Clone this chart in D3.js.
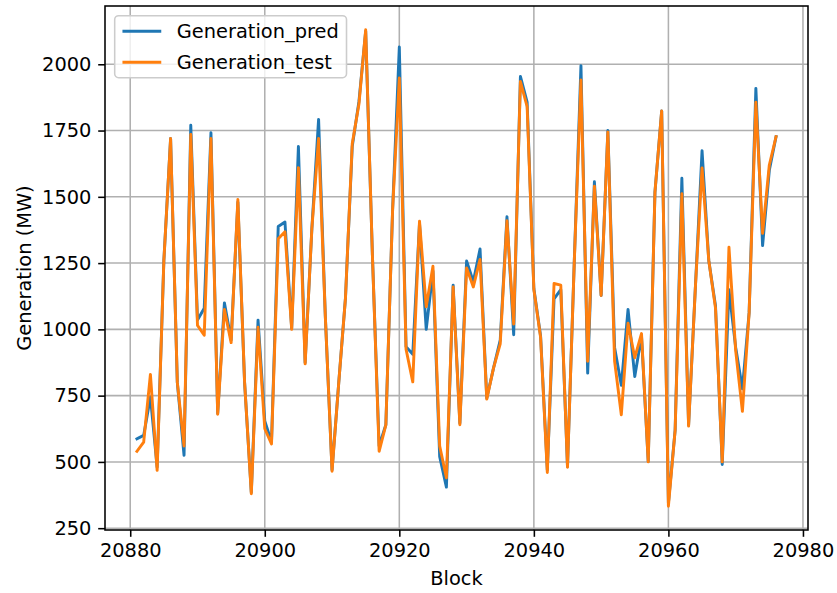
<!DOCTYPE html>
<html>
<head>
<meta charset="utf-8">
<script src="https://cdn.jsdelivr.net/npm/d3@7"></script>
<style>
body { margin: 0; background: #fff; }
text { font-family: "DejaVu Sans", sans-serif; fill: #000; }
</style>
</head>
<body>
<div id="chart"></div>
<script>
const blocks = [20881, 20882, 20883, 20884, 20885, 20886, 20887, 20888, 20889, 20890,
    20891, 20892, 20893, 20894, 20895, 20896, 20897, 20898, 20899, 20900,
    20901, 20902, 20903, 20904, 20905, 20906, 20907, 20908, 20909, 20910,
    20911, 20912, 20913, 20914, 20915, 20916, 20917, 20918, 20919, 20920,
    20921, 20922, 20923, 20924, 20925, 20926, 20927, 20928, 20929, 20930,
    20931, 20932, 20933, 20934, 20935, 20936, 20937, 20938, 20939, 20940,
    20941, 20942, 20943, 20944, 20945, 20946, 20947, 20948, 20949, 20950,
    20951, 20952, 20953, 20954, 20955, 20956, 20957, 20958, 20959, 20960,
    20961, 20962, 20963, 20964, 20965, 20966, 20967, 20968, 20969, 20970,
    20971, 20972, 20973, 20974, 20975, 20976];
const generationPred = [587, 600, 745, 480, 1260, 1720, 800, 525, 1770, 1035,
    1080, 1742, 683, 1100, 960, 1480, 800, 385, 1035, 655,
    575, 1388, 1405, 1004, 1690, 874, 1380, 1792, 1050, 470,
    800, 1120, 1690, 1860, 2125, 1280, 560, 640, 1450, 2065,
    935, 906, 1400, 1000, 1220, 520, 405, 1167, 646, 1258,
    1180, 1303, 740, 854, 960, 1425, 980, 1954, 1857, 1154,
    975, 470, 1115, 1150, 483, 1250, 1995, 835, 1557, 1128,
    1750, 932, 789, 1075, 822, 975, 502, 1518, 1824, 345,
    620, 1570, 639, 1154, 1674, 1260, 1089, 490, 1150, 932,
    776, 1063, 1909, 1316, 1600, 1727];
const generationTest = [540, 575, 830, 468, 1260, 1720, 800, 560, 1735, 1015,
    978, 1720, 680, 1075, 950, 1490, 800, 380, 1008, 625,
    568, 1342, 1368, 1000, 1610, 870, 1380, 1720, 1050, 465,
    800, 1120, 1700, 1850, 2130, 1280, 540, 640, 1450, 1948,
    925, 802, 1408, 1085, 1238, 560, 440, 1160, 640, 1232,
    1160, 1264, 737, 854, 945, 1410, 1020, 1935, 1840, 1150,
    970, 460, 1173, 1167, 480, 1250, 1941, 880, 1540, 1128,
    1745, 880, 678, 1023, 893, 984, 500, 1518, 1824, 333,
    620, 1512, 635, 1154, 1609, 1260, 1080, 500, 1310, 920,
    691, 1063, 1857, 1362, 1620, 1727];
const seriesNames = ['Generation_pred', 'Generation_test'];
const seriesColors = ['#1f77b4', '#ff7f0e'];
const xTicks = [20880, 20900, 20920, 20940, 20960, 20980];
const yTicks = [250, 500, 750, 1000, 1250, 1500, 1750, 2000];

const width = 837, height = 593;
const margin = { top: 6, right: 29, bottom: 63, left: 105 };
const w = width - margin.left - margin.right;
const h = height - margin.top - margin.bottom;
const pt = 1.944;
const fontSize = 19.4;

// matplotlib style 5% margins on the data limits
const pad = function (lo, hi) {
    return [lo - (hi - lo) * 0.05, hi + (hi - lo) * 0.05];
};
const allValues = generationPred.concat(generationTest);
const x = d3.scaleLinear().domain(pad(d3.min(blocks), d3.max(blocks))).range([0, w]);
const y = d3.scaleLinear().domain(pad(d3.min(allValues), d3.max(allValues))).range([h, 0]);

const svg = d3.select('#chart').append('svg').attr('width', width).attr('height', height)
    .style('font-family', '"DejaVu Sans", sans-serif');
svg.append('rect').attr('width', width).attr('height', height).attr('fill', '#fff');
const chart = svg.append('g').attr('transform', 'translate(' + margin.left + ',' + margin.top + ')');

// grid
chart.append('g').selectAll('line').data(xTicks).enter().append('line')
    .attr('x1', d => x(d)).attr('x2', d => x(d)).attr('y1', 0).attr('y2', h)
    .attr('stroke', '#b0b0b0').attr('stroke-width', 0.8 * pt);
chart.append('g').selectAll('line').data(yTicks).enter().append('line')
    .attr('x1', 0).attr('x2', w).attr('y1', d => y(d)).attr('y2', d => y(d))
    .attr('stroke', '#b0b0b0').attr('stroke-width', 0.8 * pt);

// series
const line = d3.line().x((d, i) => x(blocks[i])).y(d => y(d));
[generationPred, generationTest].forEach((values, k) => {
    chart.append('path').datum(values)
        .attr('d', line)
        .attr('fill', 'none')
        .attr('stroke', seriesColors[k])
        .attr('stroke-width', 1.5 * pt)
        .attr('stroke-linejoin', 'round')
        .attr('stroke-linecap', 'square');
});

// axes
const xAxis = chart.append('g').attr('transform', 'translate(0,' + h + ')')
    .call(d3.axisBottom(x).tickValues(xTicks).tickFormat(d3.format('d')).tickSize(3.5 * pt).tickPadding(3.5 * pt));
const yAxis = chart.append('g')
    .call(d3.axisLeft(y).tickValues(yTicks).tickFormat(d3.format('d')).tickSize(3.5 * pt).tickPadding(3.5 * pt));
[xAxis, yAxis].forEach(a => {
    a.select('.domain').remove();
    a.selectAll('.tick line').attr('stroke', '#000').attr('stroke-width', 0.8 * pt);
    a.selectAll('.tick text').attr('font-size', fontSize).attr('font-family', '"DejaVu Sans", sans-serif').attr('fill', '#000');
});

chart.append('rect').attr('width', w).attr('height', h)
    .attr('fill', 'none').attr('stroke', '#000').attr('stroke-width', 0.8 * pt);

// axis labels
svg.append('text')
    .attr('x', margin.left + w / 2).attr('y', 585)
    .attr('text-anchor', 'middle').attr('font-size', fontSize)
    .text('Block');
svg.append('text')
    .attr('transform', 'translate(31,' + (margin.top + h / 2) + ') rotate(-90)')
    .attr('text-anchor', 'middle').attr('font-size', fontSize)
    .text('Generation (MW)');

// legend
const legend = chart.append('g').attr('transform', 'translate(' + (0.5 * fontSize) + ',' + (0.5 * fontSize) + ')');
const frame = legend.append('rect');
const rowH = 31;
const items = legend.selectAll('g.item').data(seriesNames).enter().append('g')
    .attr('class', 'item')
    .attr('transform', (d, i) => 'translate(' + (0.4 * fontSize) + ',' + (15.5 + i * rowH) + ')');
items.append('line')
    .attr('x1', 0).attr('x2', 2 * fontSize).attr('y1', 0).attr('y2', 0)
    .attr('stroke', (d, i) => seriesColors[i]).attr('stroke-width', 1.5 * pt);
items.append('text')
    .attr('x', 2.8 * fontSize).attr('y', 0).attr('dy', '0.36em')
    .attr('font-size', fontSize)
    .text(d => d);
let textW = 0;
items.selectAll('text').each(function () { textW = Math.max(textW, this.getComputedTextLength()); });
frame.attr('x', 0).attr('y', 0)
    .attr('width', 0.4 * fontSize * 2 + 2.8 * fontSize + textW)
    .attr('height', 15.5 + rowH + 15.5)
    .attr('rx', 0.2 * fontSize).attr('ry', 0.2 * fontSize)
    .attr('fill', '#fff').attr('fill-opacity', 0.8)
    .attr('stroke', '#cccccc').attr('stroke-width', 0.8 * pt);
</script>
</body>
</html>
